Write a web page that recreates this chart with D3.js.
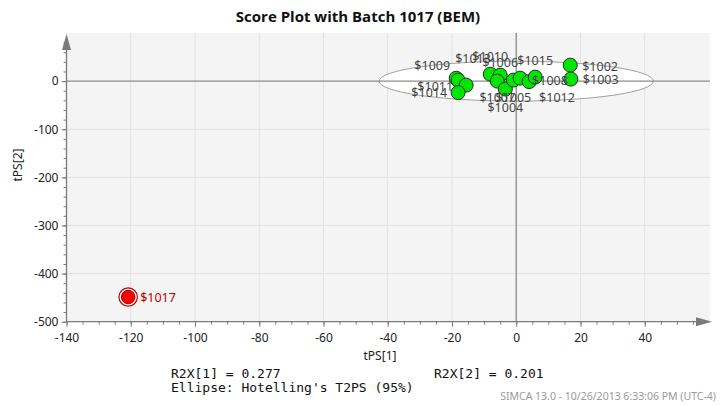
<!DOCTYPE html>
<html>
<head>
<meta charset="utf-8">
<script src="https://cdn.jsdelivr.net/npm/d3@7"></script>
<style>
  body { margin: 0; background: #fff; }
  svg { display: block; }
</style>
</head>
<body>
<div id="chart"></div>
<script>
// datos del gráfico
const batches = ['$1013', '$1009', '$1011', '$1014', '$1010', '$1006', '$1007', '$1004', '$1005', '$1008', '$1012', '$1015', '$1002', '$1003', '$1017'];
const t1 = [-18.7, -18.1, -15.6, -18.1, -8.1, -5.0, -5.9, -3.4, -0.9, 1.2, 4.0, 5.9, 16.8, 17.0, -120.8];
const t2 = [6.0, 2.1, -8.3, -23.9, 14.5, 12.5, 0.0, -16.6, 2.1, 6.2, -1.0, 8.3, 33.2, 4.2, -448.7];
const highlighted = ['$1017'];
const xTickValues = [-140, -120, -100, -80, -60, -40, -20, 0, 20, 40];
const yTickValues = [-500, -400, -300, -200, -100, 0];
const ellipseRadii = [42.7, 41.5];
const r2x = [0.277, 0.201];

// posición de las etiquetas (dx, dy, anchor) por punto
const labelPlace = [
  [-1, -20, 'start'], [-8, -15, 'end'], [-13, 1, 'end'], [-11, 0, 'end'],
  [0, -18, 'middle'], [0, -13, 'middle'], [0, 16, 'middle'], [0, 18, 'middle'],
  [0, 17, 'middle'], [12, 2, 'start'], [10, 16, 'start'], [0, -17, 'middle'],
  [12, 1, 'start'], [12, 0, 'start'], [12, 0, 'start']
];

const width = 720, height = 406;
const plot = { left: 66.5, right: 710, top: 33, bottom: 321.7 };

const svg = d3.select('#chart').append('svg')
  .attr('width', width).attr('height', height);

const x = d3.scaleLinear().domain([-140, 60]).range([plot.left, 709]);
const y = d3.scaleLinear().domain([-500, 100]).range([plot.bottom, plot.top]);

// fondo
svg.append('rect')
  .attr('x', plot.left).attr('y', plot.top)
  .attr('width', plot.right - plot.left).attr('height', plot.bottom - plot.top)
  .attr('fill', '#f4f4f4');

// rejilla
svg.append('g').selectAll('line')
  .data(d3.range(-120, 60, 20).filter(d => d !== 0))
  .enter().append('line')
  .attr('x1', d => x(d)).attr('x2', d => x(d))
  .attr('y1', plot.top).attr('y2', plot.bottom)
  .attr('stroke', '#e1e1e1').attr('stroke-width', 1);

svg.append('g').selectAll('line')
  .data(d3.range(-400, 0, 100))
  .enter().append('line')
  .attr('x1', plot.left).attr('x2', plot.right)
  .attr('y1', d => y(d)).attr('y2', d => y(d))
  .attr('stroke', '#e1e1e1').attr('stroke-width', 1);

// elipse de Hotelling
svg.append('ellipse')
  .attr('cx', x(0)).attr('cy', y(0))
  .attr('rx', x(ellipseRadii[0]) - x(0))
  .attr('ry', y(0) - y(ellipseRadii[1]))
  .attr('fill', '#fff').attr('stroke', '#a0a0a0').attr('stroke-width', 1);

// líneas cero
svg.append('line')
  .attr('x1', x(0)).attr('x2', x(0)).attr('y1', plot.top).attr('y2', plot.bottom)
  .attr('stroke', '#8c8c8c').attr('stroke-width', 1.3);
svg.append('line')
  .attr('x1', plot.left).attr('x2', plot.right).attr('y1', y(0)).attr('y2', y(0))
  .attr('stroke', '#8c8c8c').attr('stroke-width', 1.3);

// ejes (guion normal en vez de signo menos)
const axisColor = '#7a7a7a';
const fmt = d => String(d);
const xAxis = svg.append('g')
  .attr('transform', `translate(0,${plot.bottom})`)
  .call(d3.axisBottom(x).tickValues(xTickValues).tickFormat(fmt).tickSize(5).tickSizeOuter(0));
svg.append('g')
  .attr('transform', `translate(0,${plot.bottom})`)
  .call(d3.axisBottom(x).tickValues(d3.range(-140, 56, 5)).tickSize(3).tickFormat(''))
  .call(g => g.select('.domain').remove());

const yAxis = svg.append('g')
  .attr('transform', `translate(${plot.left},0)`)
  .call(d3.axisLeft(y).tickValues(yTickValues).tickFormat(fmt).tickSize(5).tickSizeOuter(0));
svg.append('g')
  .attr('transform', `translate(${plot.left},0)`)
  .call(d3.axisLeft(y).tickValues(d3.range(-500, 81, 20)).tickSize(3).tickFormat(''))
  .call(g => g.select('.domain').remove());

svg.selectAll('.domain').remove();
svg.selectAll('.tick line').attr('stroke', axisColor);
svg.selectAll('.tick text')
  .attr('fill', '#222').style('font-family', 'Noto Sans, sans-serif').style('font-size', '12px');
xAxis.selectAll('.tick text').attr('dy', '1.0em');

svg.append('line')
  .attr('x1', plot.left).attr('x2', plot.left).attr('y1', 40).attr('y2', plot.bottom)
  .attr('stroke', axisColor).attr('stroke-width', 1.3);
svg.append('line')
  .attr('x1', plot.left).attr('x2', 702).attr('y1', plot.bottom).attr('y2', plot.bottom)
  .attr('stroke', axisColor).attr('stroke-width', 1.3);

// flechas
svg.append('path')
  .attr('d', `M${plot.left},34 L${plot.left - 4.5},50 L${plot.left + 4.5},50 Z`)
  .attr('fill', axisColor);
svg.append('path')
  .attr('d', `M712,${plot.bottom} L696,${plot.bottom - 4.5} L696,${plot.bottom + 4.5} Z`)
  .attr('fill', axisColor);

// puntos
const pts = batches.map((b, i) => ({ id: b, x: t1[i], y: t2[i], place: labelPlace[i], hi: highlighted.includes(b) }));

const hiPts = pts.filter(d => d.hi);
svg.append('g').selectAll('circle')
  .data(hiPts).enter().append('circle')
  .attr('cx', d => x(d.x)).attr('cy', d => y(d.y)).attr('r', 9.2)
  .attr('fill', '#fff').attr('stroke', '#c40000').attr('stroke-width', 1.2);

svg.append('g').selectAll('circle')
  .data(pts).enter().append('circle')
  .attr('cx', d => x(d.x)).attr('cy', d => y(d.y))
  .attr('r', d => d.hi ? 6.8 : 7)
  .attr('fill', d => d.hi ? '#ff0000' : '#00e600')
  .attr('stroke', d => d.hi ? '#a00000' : '#2b2b2b')
  .attr('stroke-width', 1);

// etiquetas
svg.append('g').selectAll('text')
  .data(pts).enter().append('text')
  .attr('x', d => x(d.x) + d.place[0])
  .attr('y', d => y(d.y) + d.place[1])
  .attr('text-anchor', d => d.place[2])
  .attr('dominant-baseline', 'central')
  .attr('fill', d => d.hi ? '#b40000' : '#444')
  .style('font-family', 'Noto Sans, sans-serif')
  .style('font-size', '12.5px')
  .text(d => d.id);

// títulos
svg.append('text')
  .attr('x', 358).attr('y', 22)
  .attr('text-anchor', 'middle')
  .style('font-family', 'Open Sans, sans-serif').style('font-weight', 'bold').style('font-size', '15px')
  .attr('fill', '#111')
  .text('Score Plot with Batch 1017 (BEM)');

svg.append('text')
  .attr('x', 380).attr('y', 360)
  .attr('text-anchor', 'middle')
  .style('font-family', 'Noto Sans, sans-serif').style('font-size', '12px')
  .attr('fill', '#222')
  .text('tPS[1]');

svg.append('text')
  .attr('transform', 'translate(22,165) rotate(-90)')
  .attr('text-anchor', 'middle')
  .style('font-family', 'Noto Sans, sans-serif').style('font-size', '12px')
  .attr('fill', '#222')
  .text('tPS[2]');

// pie
const mono = 'DejaVu Sans Mono, monospace';
svg.append('text').attr('x', 171).attr('y', 378)
  .style('font-family', mono).style('font-size', '13px').attr('fill', '#111')
  .text(`R2X[1] = ${r2x[0]}`);
svg.append('text').attr('x', 434).attr('y', 378)
  .style('font-family', mono).style('font-size', '13px').attr('fill', '#111')
  .text(`R2X[2] = ${r2x[1]}`);
svg.append('text').attr('x', 171).attr('y', 392)
  .style('font-family', mono).style('font-size', '13px').attr('fill', '#111')
  .text("Ellipse: Hotelling's T2PS (95%)");

svg.append('text').attr('x', 716).attr('y', 400)
  .attr('text-anchor', 'end')
  .style('font-family', 'Noto Sans, sans-serif').style('font-size', '10.5px').attr('fill', '#9a9a9a')
  .text('SIMCA 13.0 - 10/26/2013 6:33:06 PM (UTC-4)');
</script>
</body>
</html>
